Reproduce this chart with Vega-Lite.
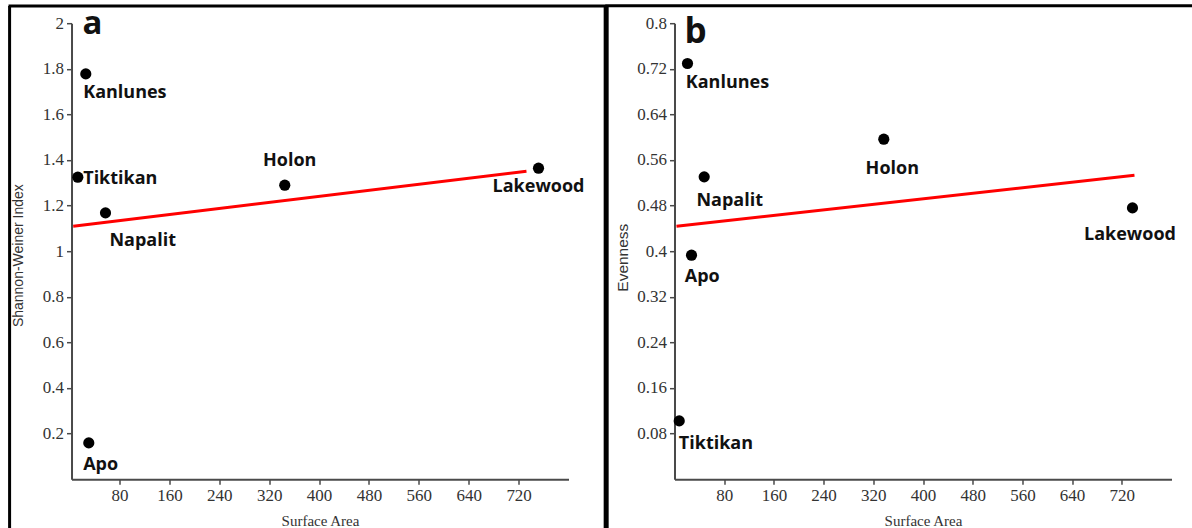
{
  "$schema": "https://vega.github.io/schema/vega-lite/v6.json",
  "background": "white",
  "padding": {"left": 6.5, "top": 3.2, "right": 0, "bottom": 0},
  "spacing": 106,
  "bounds": "flush",
  "config": {"view": {"stroke": null}},
  "datasets": {
    "pa": [
      {"site": "Kanlunes", "area": 25.9, "shannon": 1.7776},
      {"site": "Tiktikan", "area": 13.1, "shannon": 1.3246},
      {"site": "Napalit", "area": 57.5, "shannon": 1.168},
      {"site": "Holon", "area": 345.0, "shannon": 1.2895},
      {"site": "Lakewood", "area": 751.9, "shannon": 1.364},
      {"site": "Apo", "area": 30.7, "shannon": 0.1592}
    ],
    "pb": [
      {"site": "Kanlunes", "area": 20.9, "evenness": 0.7293},
      {"site": "Napalit", "area": 47.8, "evenness": 0.5304},
      {"site": "Holon", "area": 336.9, "evenness": 0.5965},
      {"site": "Lakewood", "area": 737.2, "evenness": 0.476},
      {"site": "Apo", "area": 27.4, "evenness": 0.393},
      {"site": "Tiktikan", "area": 7.6, "evenness": 0.1023}
    ],
    "ta": [{"area": 5.7, "fit": 1.1096}, {"area": 732.6, "fit": 1.3509}],
    "tb": [{"area": 3.2, "fit": 0.4439}, {"area": 740.4, "fit": 0.5333}],
    "one": [{"k": 1}]
  },
  "hconcat": [
    {
      "width": 497,
      "height": 456,
      "layer": [
        {
          "data": {"name": "one"},
          "mark": {"type": "rule", "color": "black", "strokeWidth": 3},
          "encoding": {
            "x": {"datum": -98.0, "type": "quantitative", "scale": {"domain": [3, 800], "nice": false, "zero": false}},
            "x2": {"datum": 860.4},
            "y": {"datum": 2.0759, "type": "quantitative", "scale": {"domain": [0, 2], "nice": false, "zero": false}}
          }
        },
        {
          "data": {"name": "one"},
          "mark": {"type": "rule", "color": "black", "strokeWidth": 3},
          "encoding": {
            "x": {"datum": -96.3, "type": "quantitative", "scale": {"domain": [3, 800], "nice": false, "zero": false}},
            "y": {"datum": 2.0759, "type": "quantitative", "scale": {"domain": [0, 2], "nice": false, "zero": false}},
            "y2": {"datum": -0.2149}
          }
        },
        {
          "data": {"name": "one"},
          "mark": {"type": "rule", "color": "black", "strokeWidth": 5},
          "encoding": {
            "x": {"datum": 860.4, "type": "quantitative", "scale": {"domain": [3, 800], "nice": false, "zero": false}},
            "y": {"datum": 2.0759, "type": "quantitative", "scale": {"domain": [0, 2], "nice": false, "zero": false}},
            "y2": {"datum": -0.2149}
          }
        },
        {
          "data": {"name": "ta"},
          "mark": {"type": "line", "color": "#ff0000", "strokeWidth": 3},
          "encoding": {
            "x": {"field": "area", "type": "quantitative", "scale": {"domain": [3, 800], "nice": false, "zero": false}},
            "y": {"field": "fit", "type": "quantitative", "scale": {"domain": [0, 2], "nice": false, "zero": false}}
          }
        },
        {
          "data": {"name": "pa"},
          "encoding": {
            "x": {
              "field": "area", "type": "quantitative",
              "scale": {"domain": [3, 800], "nice": false, "zero": false},
              "axis": {
                "title": "Surface Area", "values": [80, 160, 240, 320, 400, 480, 560, 640, 720],
                "grid": false, "domainColor": "#4a4a4a", "domainWidth": 2, "tickColor": "#4a4a4a", "tickWidth": 1.5, "tickSize": 5,
                "labelFont": "Liberation Serif", "labelFontSize": 17, "labelColor": "#333333", "labelPadding": 3,
                "titleFont": "Liberation Serif", "titleFontSize": 15, "titleFontWeight": "normal", "titleColor": "#333333",
                "titleY": 46, "titleBaseline": "alphabetic"
              }
            },
            "y": {
              "field": "shannon", "type": "quantitative",
              "scale": {"domain": [0, 2], "nice": false, "zero": false},
              "axis": {
                "title": "Shannon-Weiner Index", "values": [0.2, 0.4, 0.6, 0.8, 1, 1.2, 1.4, 1.6, 1.8, 2], "format": "~g",
                "grid": false, "domainColor": "#4a4a4a", "domainWidth": 2, "tickColor": "#4a4a4a", "tickWidth": 1.5, "tickSize": 5,
                "labelFont": "Liberation Serif", "labelFontSize": 17, "labelColor": "#333333", "labelPadding": 3,
                "titleFont": "Liberation Sans Narrow, Liberation Sans", "titleFontSize": 14, "titleFontWeight": "normal", "titleColor": "#333333",
                "titleX": -53, "titleY": 232, "titleBaseline": "middle", "titleAlign": "center", "titleAngle": 270
              }
            }
          },
          "layer": [
            {"mark": {"type": "circle", "color": "black", "opacity": 1, "size": 125}},
            {"transform": [{"filter": "datum.site === 'Kanlunes'"}], "mark": {"type": "text", "align": "left", "baseline": "alphabetic", "dx": -2.6, "dy": 24.3, "font": "Open Sans", "fontSize": 18, "fontWeight": "bold", "color": "#111111"}, "encoding": {"text": {"field": "site"}}},
            {"transform": [{"filter": "datum.site === 'Tiktikan'"}], "mark": {"type": "text", "align": "left", "baseline": "alphabetic", "dx": 5.4, "dy": 6.7, "font": "Open Sans", "fontSize": 18, "fontWeight": "bold", "color": "#111111"}, "encoding": {"text": {"field": "site"}}},
            {"transform": [{"filter": "datum.site === 'Napalit'"}], "mark": {"type": "text", "align": "left", "baseline": "alphabetic", "dx": 4, "dy": 33, "font": "Open Sans", "fontSize": 18, "fontWeight": "bold", "color": "#111111"}, "encoding": {"text": {"field": "site"}}},
            {"transform": [{"filter": "datum.site === 'Holon'"}], "mark": {"type": "text", "align": "center", "baseline": "alphabetic", "dx": 5, "dy": -19, "font": "Open Sans", "fontSize": 18, "fontWeight": "bold", "color": "#111111"}, "encoding": {"text": {"field": "site"}}},
            {"transform": [{"filter": "datum.site === 'Lakewood'"}], "mark": {"type": "text", "align": "center", "baseline": "alphabetic", "dx": 0, "dy": 24, "font": "Open Sans", "fontSize": 18, "fontWeight": "bold", "color": "#111111"}, "encoding": {"text": {"field": "site"}}},
            {"transform": [{"filter": "datum.site === 'Apo'"}], "mark": {"type": "text", "align": "left", "baseline": "alphabetic", "dx": -5.6, "dy": 27.3, "font": "Open Sans", "fontSize": 18, "fontWeight": "bold", "color": "#111111"}, "encoding": {"text": {"field": "site"}}}
          ]
        },
        {
          "data": {"name": "one"},
          "mark": {"type": "text", "text": "a", "align": "left", "baseline": "alphabetic", "font": "Open Sans", "fontSize": 33, "fontWeight": "bold", "color": "#111111"},
          "encoding": {
            "x": {"datum": 20.5, "type": "quantitative", "scale": {"domain": [3, 800], "nice": false, "zero": false}},
            "y": {"datum": 1.9518, "type": "quantitative", "scale": {"domain": [0, 2], "nice": false, "zero": false}}
          }
        }
      ]
    },
    {
      "width": 497,
      "height": 456,
      "layer": [
        {
          "data": {"name": "one"},
          "mark": {"type": "rule", "color": "black", "strokeWidth": 3},
          "encoding": {
            "x": {"datum": -111.1, "type": "quantitative", "scale": {"domain": [0, 800], "nice": false, "zero": false}},
            "x2": {"datum": 833.8},
            "y": {"datum": 0.8304, "type": "quantitative", "scale": {"domain": [0, 0.8], "nice": false, "zero": false}}
          }
        },
        {
          "data": {"name": "tb"},
          "mark": {"type": "line", "color": "#ff0000", "strokeWidth": 3},
          "encoding": {
            "x": {"field": "area", "type": "quantitative", "scale": {"domain": [0, 800], "nice": false, "zero": false}},
            "y": {"field": "fit", "type": "quantitative", "scale": {"domain": [0, 0.8], "nice": false, "zero": false}}
          }
        },
        {
          "data": {"name": "pb"},
          "encoding": {
            "x": {
              "field": "area", "type": "quantitative",
              "scale": {"domain": [0, 800], "nice": false, "zero": false},
              "axis": {
                "title": "Surface Area", "values": [80, 160, 240, 320, 400, 480, 560, 640, 720],
                "grid": false, "domainColor": "#4a4a4a", "domainWidth": 2, "tickColor": "#4a4a4a", "tickWidth": 1.5, "tickSize": 5,
                "labelFont": "Liberation Serif", "labelFontSize": 17, "labelColor": "#333333", "labelPadding": 3,
                "titleFont": "Liberation Serif", "titleFontSize": 15, "titleFontWeight": "normal", "titleColor": "#333333",
                "titleY": 46, "titleBaseline": "alphabetic"
              }
            },
            "y": {
              "field": "evenness", "type": "quantitative",
              "scale": {"domain": [0, 0.8], "nice": false, "zero": false},
              "axis": {
                "title": "Evenness", "values": [0.08, 0.16, 0.24, 0.32, 0.4, 0.48, 0.56, 0.64, 0.72, 0.8], "format": "~g",
                "grid": false, "domainColor": "#4a4a4a", "domainWidth": 2, "tickColor": "#4a4a4a", "tickWidth": 1.5, "tickSize": 5,
                "labelFont": "Liberation Serif", "labelFontSize": 17, "labelColor": "#333333", "labelPadding": 3,
                "titleFont": "Liberation Sans Narrow, Liberation Sans", "titleFontSize": 15.5, "titleFontWeight": "normal", "titleColor": "#333333",
                "titleX": -52, "titleY": 234, "titleBaseline": "middle", "titleAlign": "center", "titleAngle": 270
              }
            }
          },
          "layer": [
            {"mark": {"type": "circle", "color": "black", "opacity": 1, "size": 125}},
            {"transform": [{"filter": "datum.site === 'Kanlunes'"}], "mark": {"type": "text", "align": "left", "baseline": "alphabetic", "dx": -1.7, "dy": 25, "font": "Open Sans", "fontSize": 18, "fontWeight": "bold", "color": "#111111"}, "encoding": {"text": {"field": "site"}}},
            {"transform": [{"filter": "datum.site === 'Napalit'"}], "mark": {"type": "text", "align": "left", "baseline": "alphabetic", "dx": -7.7, "dy": 29.3, "font": "Open Sans", "fontSize": 18, "fontWeight": "bold", "color": "#111111"}, "encoding": {"text": {"field": "site"}}},
            {"transform": [{"filter": "datum.site === 'Holon'"}], "mark": {"type": "text", "align": "center", "baseline": "alphabetic", "dx": 8.5, "dy": 35.3, "font": "Open Sans", "fontSize": 18, "fontWeight": "bold", "color": "#111111"}, "encoding": {"text": {"field": "site"}}},
            {"transform": [{"filter": "datum.site === 'Lakewood'"}], "mark": {"type": "text", "align": "center", "baseline": "alphabetic", "dx": -2.5, "dy": 32.6, "font": "Open Sans", "fontSize": 18, "fontWeight": "bold", "color": "#111111"}, "encoding": {"text": {"field": "site"}}},
            {"transform": [{"filter": "datum.site === 'Apo'"}], "mark": {"type": "text", "align": "left", "baseline": "alphabetic", "dx": -6.7, "dy": 27.3, "font": "Open Sans", "fontSize": 18, "fontWeight": "bold", "color": "#111111"}, "encoding": {"text": {"field": "site"}}},
            {"transform": [{"filter": "datum.site === 'Tiktikan'"}], "mark": {"type": "text", "align": "left", "baseline": "alphabetic", "dx": -0.4, "dy": 28.6, "font": "Open Sans", "fontSize": 18, "fontWeight": "bold", "color": "#111111"}, "encoding": {"text": {"field": "site"}}}
          ]
        },
        {
          "data": {"name": "one"},
          "mark": {"type": "text", "text": "b", "align": "left", "baseline": "alphabetic", "font": "Open Sans", "fontSize": 35, "fontWeight": "bold", "color": "#111111"},
          "encoding": {
            "x": {"datum": 16.1, "type": "quantitative", "scale": {"domain": [0, 800], "nice": false, "zero": false}},
            "y": {"datum": 0.7649, "type": "quantitative", "scale": {"domain": [0, 0.8], "nice": false, "zero": false}}
          }
        }
      ]
    }
  ]
}
